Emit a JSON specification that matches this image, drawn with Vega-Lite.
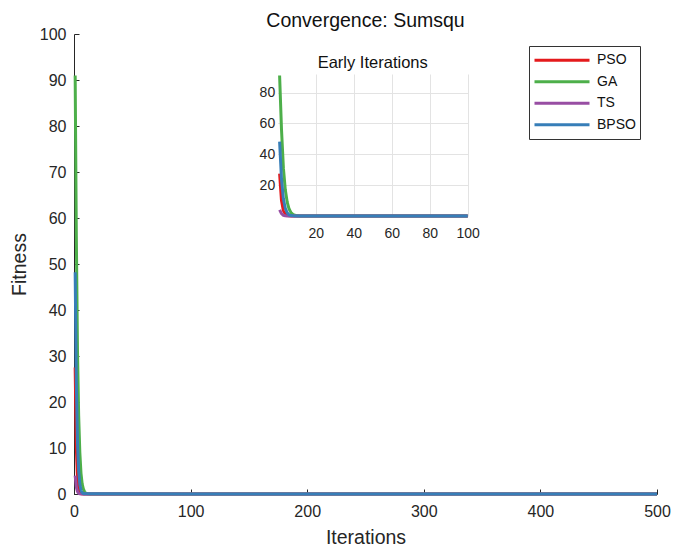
{
  "$schema": "https://vega.github.io/schema/vega-lite/v6.json",
  "width": 583,
  "height": 460,
  "autosize": {"type": "none"},
  "padding": {"left": 74, "top": 34, "right": 18, "bottom": 55},
  "background": "white",
  "config": {"font": "Liberation Sans", "view": {"stroke": null}},
  "title": {"text": "Convergence: Sumsqu", "fontSize": 19.5, "fontWeight": "normal", "color": "#111", "offset": -5, "anchor": "middle"},
  "data": {"values": [
    {"it": 1, "fitness": 27.5, "algo": "PSO"},
    {"it": 2, "fitness": 10, "algo": "PSO"},
    {"it": 3, "fitness": 3.5, "algo": "PSO"},
    {"it": 4, "fitness": 1.2, "algo": "PSO"},
    {"it": 5, "fitness": 0.4, "algo": "PSO"},
    {"it": 6, "fitness": 0.12, "algo": "PSO"},
    {"it": 7, "fitness": 0.04, "algo": "PSO"},
    {"it": 8, "fitness": 0.01, "algo": "PSO"},
    {"it": 100, "fitness": 0, "algo": "PSO"},
    {"it": 500, "fitness": 0, "algo": "PSO"},
    {"it": 1, "fitness": 91, "algo": "GA"},
    {"it": 2, "fitness": 56, "algo": "GA"},
    {"it": 3, "fitness": 31, "algo": "GA"},
    {"it": 4, "fitness": 17, "algo": "GA"},
    {"it": 5, "fitness": 9, "algo": "GA"},
    {"it": 6, "fitness": 4.5, "algo": "GA"},
    {"it": 7, "fitness": 2.2, "algo": "GA"},
    {"it": 8, "fitness": 1.1, "algo": "GA"},
    {"it": 9, "fitness": 0.5, "algo": "GA"},
    {"it": 10, "fitness": 0.22, "algo": "GA"},
    {"it": 11, "fitness": 0.1, "algo": "GA"},
    {"it": 12, "fitness": 0.04, "algo": "GA"},
    {"it": 14, "fitness": 0.01, "algo": "GA"},
    {"it": 100, "fitness": 0, "algo": "GA"},
    {"it": 500, "fitness": 0, "algo": "GA"},
    {"it": 1, "fitness": 4, "algo": "TS"},
    {"it": 2, "fitness": 1.5, "algo": "TS"},
    {"it": 3, "fitness": 0.5, "algo": "TS"},
    {"it": 4, "fitness": 0.15, "algo": "TS"},
    {"it": 5, "fitness": 0.05, "algo": "TS"},
    {"it": 6, "fitness": 0.01, "algo": "TS"},
    {"it": 100, "fitness": 0, "algo": "TS"},
    {"it": 500, "fitness": 0, "algo": "TS"},
    {"it": 1, "fitness": 48.2, "algo": "BPSO"},
    {"it": 2, "fitness": 24, "algo": "BPSO"},
    {"it": 3, "fitness": 11, "algo": "BPSO"},
    {"it": 4, "fitness": 5, "algo": "BPSO"},
    {"it": 5, "fitness": 2.1, "algo": "BPSO"},
    {"it": 6, "fitness": 0.8, "algo": "BPSO"},
    {"it": 7, "fitness": 0.3, "algo": "BPSO"},
    {"it": 8, "fitness": 0.1, "algo": "BPSO"},
    {"it": 9, "fitness": 0.03, "algo": "BPSO"},
    {"it": 100, "fitness": 0, "algo": "BPSO"},
    {"it": 500, "fitness": 0, "algo": "BPSO"}
  ]},
  "layer": [
    {
      "mark": {"type": "line", "strokeWidth": 3, "strokeJoin": "round"},
      "encoding": {
        "x": {"field": "it", "type": "quantitative", "title": "Iterations",
              "scale": {"domain": [0, 500], "nice": false},
              "axis": {"values": [0, 100, 200, 300, 400, 500], "grid": false, "tickSize": -5, "labelPadding": 14, "labelFlush": false,
                       "labelFontSize": 16, "labelColor": "#262626", "domainColor": "#262626", "tickColor": "#262626",
                       "titleFontSize": 19.5, "titleFontWeight": "normal", "titleColor": "#262626", "titlePadding": 9}},
        "y": {"field": "fitness", "type": "quantitative", "title": "Fitness",
              "scale": {"domain": [0, 100], "nice": false},
              "axis": {"values": [0, 10, 20, 30, 40, 50, 60, 70, 80, 90, 100], "grid": false, "tickSize": -5, "labelPadding": 13,
                       "labelFontSize": 16, "labelColor": "#262626", "domainColor": "#262626", "tickColor": "#262626",
                       "titleFontSize": 19.5, "titleFontWeight": "normal", "titleColor": "#262626", "titlePadding": 10}},
        "color": {"field": "algo", "type": "nominal",
                  "scale": {"domain": ["PSO", "GA", "TS", "BPSO"], "range": ["#e41a1c", "#4daf4a", "#984ea3", "#377eb8"]},
                  "legend": {"title": null, "orient": "none", "legendX": 455, "legendY": 12, "symbolType": "stroke",
                             "symbolSize": 3025, "symbolStrokeWidth": 3, "clipHeight": 20.5, "rowPadding": 0.5, "labelFontSize": 14,
                             "labelColor": "#111", "strokeColor": "#333", "fillColor": "white", "padding": 4, "labelOffset": 6}}
      }
    },
    {
      "layer": [
        {
          "transform": [{"filter": "datum.it <= 100"}],
          "mark": {"type": "line", "strokeWidth": 3, "strokeJoin": "round"},
          "encoding": {
            "x": {"field": "it", "type": "quantitative", "title": null,
                  "scale": {"domain": [0, 100], "nice": false, "range": [203.7, 393.7]},
                  "axis": {"orient": "bottom", "offset": -278, "values": [20, 40, 60, 80, 100], "grid": false, "labelFlush": false,
                           "ticks": false, "domain": false, "labelPadding": 10, "labelFontSize": 14, "labelColor": "#262626"}},
            "y": {"field": "fitness", "type": "quantitative", "title": null,
                  "scale": {"domain": [0, 92], "nice": false, "range": [182, 40]},
                  "axis": {"orient": "left", "offset": -203.7, "values": [20, 40, 60, 80], "grid": true, "gridColor": "#e3e3e3",
                           "ticks": false, "domain": false, "labelPadding": 3, "labelFontSize": 14, "labelColor": "#262626"}},
            "color": {"field": "algo", "type": "nominal", "legend": null}
          }
        },
        {
          "data": {"values": [{}]},
          "mark": {"type": "text", "fontSize": 16.5, "color": "#111", "baseline": "middle", "align": "center"},
          "encoding": {
            "x": {"datum": 50, "type": "quantitative",
                  "axis": {"orient": "top", "title": null, "values": [20, 40, 60, 80, 100], "grid": true, "gridColor": "#e3e3e3",
                           "labels": false, "ticks": false, "domain": false}},
            "y": {"datum": 99, "type": "quantitative"},
            "text": {"value": "Early Iterations"}
          }
        }
      ],
      "resolve": {"axis": {"x": "independent"}}
    }
  ],
  "resolve": {"scale": {"x": "independent", "y": "independent"}, "axis": {"x": "independent", "y": "independent"}}
}
